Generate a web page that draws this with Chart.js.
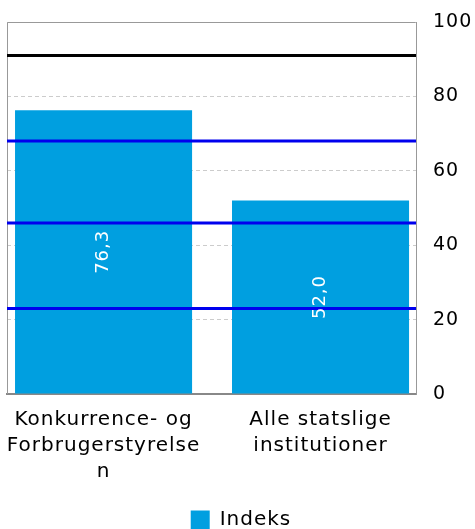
<!DOCTYPE html>
<html>
<head>
<meta charset="utf-8">
<script src="https://cdn.jsdelivr.net/npm/chart.js@4"></script>
<style>
  body { margin: 0; background: #fff; }
  #wrap { width: 475px; height: 529px; }
</style>
</head>
<body>
<div id="wrap"><canvas id="myChart"></canvas></div>
<script>
let categories = [["Konkurrence- og", "Forbrugerstyrelse", "n"], ["Alle statslige", "institutioner"]];
let indeks = [76.3, 52.0];
let blackLine = [91];
let blueLines = [68, 46, 23];
let yTicks = [0, 20, 40, 60, 80, 100];

// Verdana-like spacing
const spacing = {
  id: 'spacing',
  beforeLayout(chart) { chart.ctx.letterSpacing = '1px'; },
  beforeDraw(chart) { chart.ctx.letterSpacing = '1px'; }
};

// frame, reference lines and rotated value labels
const extras = {
  id: 'extras',
  afterDatasetsDraw(chart) {
    const ctx = chart.ctx;
    const a = chart.chartArea;
    const y = chart.scales.y;
    ctx.save();
    ctx.strokeStyle = '#999';
    ctx.lineWidth = 1;
    ctx.beginPath();
    ctx.moveTo(a.left + 0.5, a.bottom);
    ctx.lineTo(a.left + 0.5, a.top + 0.5);
    ctx.lineTo(a.right - 0.5, a.top + 0.5);
    ctx.stroke();

    ctx.lineWidth = 3;
    ctx.strokeStyle = '#000';
    blackLine.forEach(v => {
      const py = y.getPixelForValue(v);
      ctx.beginPath(); ctx.moveTo(a.left, py); ctx.lineTo(a.right, py); ctx.stroke();
    });
    ctx.strokeStyle = '#0000ee';
    blueLines.forEach(v => {
      const py = y.getPixelForValue(v);
      ctx.beginPath(); ctx.moveTo(a.left, py); ctx.lineTo(a.right, py); ctx.stroke();
    });

    const meta = chart.getDatasetMeta(0);
    ctx.fillStyle = '#fff';
    ctx.font = '18px "DejaVu Sans"';
    ctx.textAlign = 'center';
    ctx.textBaseline = 'middle';
    meta.data.forEach((bar, i) => {
      const cy = (bar.y + bar.base) / 2;
      ctx.save();
      ctx.translate(bar.x, cy);
      ctx.rotate(-Math.PI / 2);
      ctx.fillText(indeks[i].toFixed(1).replace('.', ','), 0, 0);
      ctx.restore();
    });
    ctx.restore();
  }
};

new Chart("myChart", {
  type: "bar",
  data: {
    datasets: [{
      label: "Indeks",
      data: indeks.map((v, i) => ({ x: i, y: v })),
      backgroundColor: "#009fe0",
      barPercentage: 0.816,
      categoryPercentage: 1
    }]
  },
  options: {
    responsive: true,
    maintainAspectRatio: false,
    animation: false,
    layout: { padding: { left: 7, right: 0, top: 22, bottom: -11 } },
    scales: {
      x: {
        type: 'linear',
        offset: false,
        min: -0.445,
        max: 1.44,
        afterBuildTicks(axis) { axis.ticks = categories.map((c, i) => ({ value: i })); },
        afterFit(axis) {
          axis.paddingLeft = 0;
          axis.paddingRight = 0;
          axis.height += 20;
        },
        grid: { display: false, offset: false },
        border: { display: true, color: '#888', width: 2 },
        ticks: {
          color: '#000',
          font: { family: "DejaVu Sans", size: 20, lineHeight: 1.3 },
          maxRotation: 0,
          autoSkip: false,
          padding: 5,
          callback: (v) => categories[v]
        }
      },
      y: {
        position: 'right',
        min: 0,
        max: 100,
        afterBuildTicks(axis) { axis.ticks = yTicks.map(v => ({ value: v })); },
        afterFit(axis) {
          axis.width = 59;
          axis.paddingTop = 0;
          axis.paddingBottom = 0;
        },
        grid: { color: '#ccc', drawTicks: false },
        border: { display: true, color: '#999', dash: [4, 3] },
        ticks: { color: '#000', font: { family: "DejaVu Sans", size: 19 }, padding: 17 }
      }
    },
    plugins: {
      legend: {
        position: 'bottom',
        labels: { color: '#000', font: { family: "DejaVu Sans", size: 20 }, boxWidth: 19, boxHeight: 19, padding: 0 }
      },
      tooltip: { enabled: false }
    }
  },
  plugins: [spacing, extras]
});
</script>
</body>
</html>
